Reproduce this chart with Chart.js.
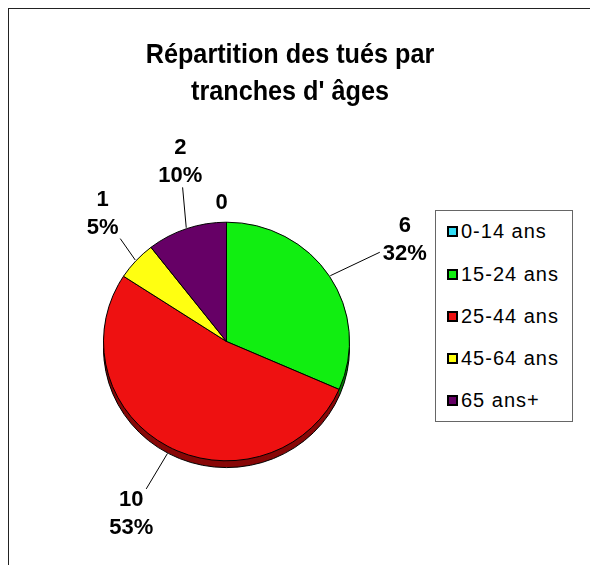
<!DOCTYPE html>
<html lang="fr">
<head>
<meta charset="utf-8">
<script src="https://cdn.jsdelivr.net/npm/chart.js"></script>
<style>
  html, body { margin: 0; padding: 0; background: #fff; }
  #page { position: relative; width: 590px; height: 565px; overflow: hidden; font-family: "Liberation Sans", Arial, sans-serif; }
  #cadre { position: absolute; left: 8px; top: 8px; width: 600px; height: 600px; border-top: 1px solid #222; border-left: 1px solid #222; }
  #titre { position: absolute; left: 0; top: 35px; width: 580px; text-align: center; font-weight: bold; font-size: 28px; line-height: 37px; color: #000; transform: scaleX(0.9); }
  #legende { position: absolute; left: 435px; top: 210px; width: 138px; height: 212px; border: 1px solid #666; box-sizing: border-box; background: #fff; }
  .item { position: absolute; left: 11px; height: 22px; display: flex; align-items: center; font-size: 20px; letter-spacing: 1px; color: #000; }
  .carre { width: 11px; height: 11px; border: 2px solid #000; box-sizing: border-box; margin-right: 3px; }
  canvas { position: absolute; left: 0; top: 0; }
</style>
</head>
<body>
<div id="page">
  <div id="cadre"></div>
  <canvas id="camembert" width="590" height="565"></canvas>
  <div id="titre">Répartition des tués par<br>tranches d' âges</div>
  <div id="legende"></div>
</div>
<script>
// données
const categories = ['0-14 ans', '15-24 ans', '25-44 ans', '45-64 ans', '65 ans+'];
const tues = [0, 6, 10, 1, 2];
const pourcentages = ['0%', '32%', '53%', '5%', '10%'];

const couleurs = ['#33DDF5', '#11EE11', '#EE1111', '#FFFF11', '#660066'];
const couleursOmbre = ['#1a7080', '#087a08', '#880808', '#8a8a08', '#330033'];

// placement des étiquettes (distance au centre, décalage en degrés)
const distancesEtiquettes = [139, 205, 197, 178, 185];
const decalagesEtiquettes = [-2, 3.6, 0.5, 3.3, 4.5];

const APLATISSEMENT = 0.97;
const EPAISSEUR = 7;

// légende
const legende = document.getElementById('legende');
categories.forEach((nom, i) => {
    const item = document.createElement('div');
    item.className = 'item';
    item.style.top = (21.7 + i * 42.3 - 12) + 'px';
    const carre = document.createElement('span');
    carre.className = 'carre';
    carre.style.background = couleurs[i];
    item.appendChild(carre);
    item.appendChild(document.createTextNode(nom));
    legende.appendChild(item);
});

// effet 3D : épaisseur sous le camembert + léger aplatissement
const relief = {
    id: 'relief',
    beforeDatasetsDraw(chart) {
        const arcs = chart.getDatasetMeta(0).data;
        const c = chart.ctx;
        const { x, y, outerRadius } = arcs[0];
        c.save();
        c.translate(x, y);
        c.scale(1, APLATISSEMENT);
        c.translate(-x, -y);
        arcs.forEach((a, i) => {
            if (a.endAngle - a.startAngle <= 0) return;
            c.fillStyle = couleursOmbre[i];
            for (let d = EPAISSEUR; d >= 1; d--) {
                c.beginPath();
                c.moveTo(a.x, a.y + d);
                c.arc(a.x, a.y + d, a.outerRadius, a.startAngle, a.endAngle);
                c.closePath();
                c.fill();
            }
        });
        c.beginPath();
        c.arc(x, y + EPAISSEUR, outerRadius, 0, Math.PI);
        c.strokeStyle = '#000';
        c.lineWidth = 1;
        c.stroke();
    },
    afterDatasetsDraw(chart) {
        chart.ctx.restore();
    }
};

// étiquettes "valeur / pourcentage" avec traits de rappel
const etiquettes = {
    id: 'etiquettes',
    afterDatasetsDraw(chart) {
        const c = chart.ctx;
        const arcs = chart.getDatasetMeta(0).data;
        c.save();
        c.font = 'bold 22px "Liberation Sans", Arial, sans-serif';
        c.textAlign = 'center';
        c.textBaseline = 'middle';
        c.fillStyle = '#000';
        c.strokeStyle = '#000';
        c.lineWidth = 1;
        arcs.forEach((a, i) => {
            const mid = (a.startAngle + a.endAngle) / 2;
            const ang = mid + decalagesEtiquettes[i] * Math.PI / 180;
            const lx = a.x + distancesEtiquettes[i] * Math.cos(ang);
            const ly = a.y + distancesEtiquettes[i] * Math.sin(ang);
            const lignes = tues[i] > 0 ? [String(tues[i]), pourcentages[i]] : [String(tues[i])];

            // boîte de l'étiquette
            const hw = Math.max(...lignes.map(t => c.measureText(t).width)) / 2 + 3;
            const hh = (lignes.length - 1) * 14 + 11;

            // point de départ sur le bord du camembert
            const s = Math.sin(mid);
            const ex = a.x + (a.outerRadius + 1) * Math.cos(mid);
            const ey = a.y + (a.outerRadius + 1) * s * APLATISSEMENT + (s > 0 ? EPAISSEUR * s : 0);
            const dx = lx - ex, dy = ly - ey;
            let t = 0;
            if (dx !== 0) t = Math.max(t, ((dx > 0 ? lx - hw : lx + hw) - ex) / dx);
            if (dy !== 0) t = Math.max(t, ((dy > 0 ? ly - hh : ly + hh) - ey) / dy);
            t = Math.min(t, 1);
            if (Math.hypot(dx * t, dy * t) > 8) {
                c.beginPath();
                c.moveTo(ex, ey);
                c.lineTo(ex + dx * t, ey + dy * t);
                c.stroke();
            }

            lignes.forEach((txt, k) => {
                c.fillText(txt, lx, ly + (k - (lignes.length - 1) / 2) * 28);
            });
        });
        c.restore();
    }
};

new Chart(document.getElementById('camembert'), {
    type: 'pie',
    data: {
        labels: categories,
        datasets: [{
            data: tues,
            backgroundColor: couleurs,
            borderColor: '#000',
            borderWidth: 1
        }]
    },
    options: {
        responsive: false,
        animation: false,
        layout: { padding: { left: 103, right: 240, top: 218, bottom: 100 } },
        plugins: {
            legend: { display: false },
            title: { display: false },
            tooltip: { enabled: false }
        }
    },
    plugins: [relief, etiquettes]
});
</script>
</body>
</html>
